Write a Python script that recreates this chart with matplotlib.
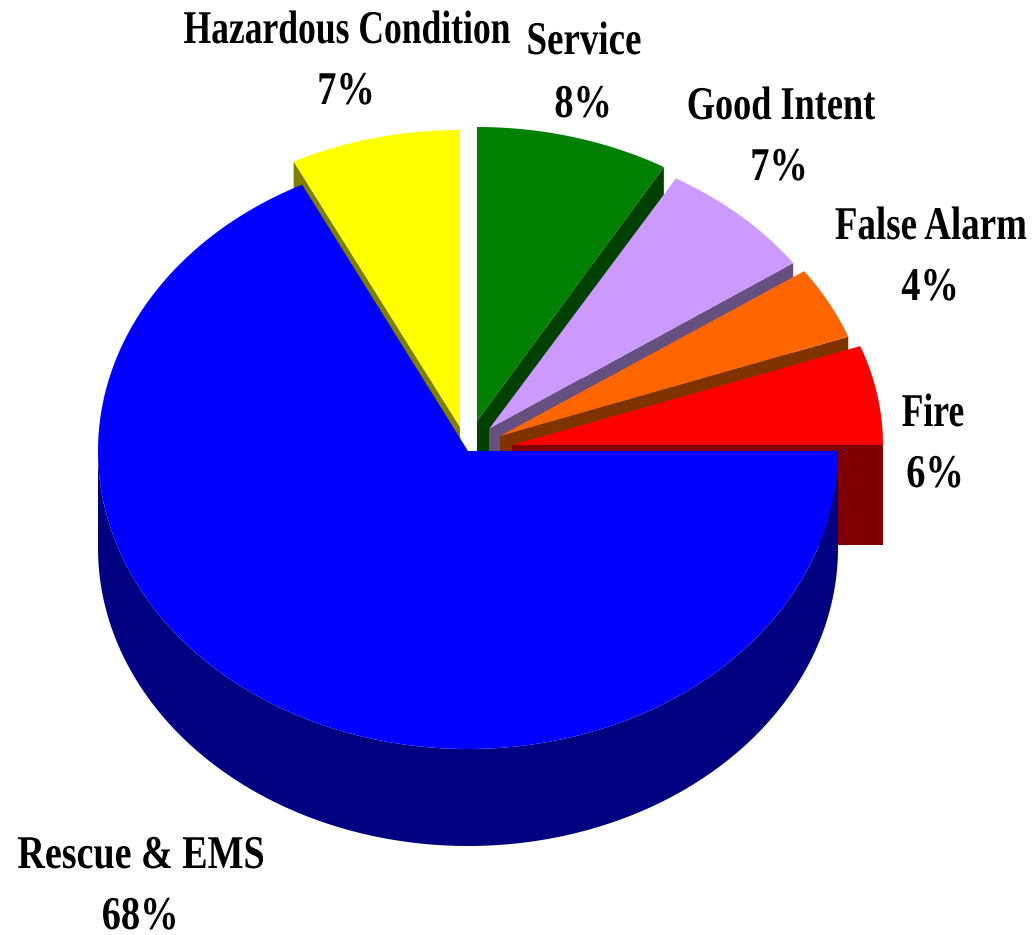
import numpy as np
import matplotlib
matplotlib.use('Agg')
import matplotlib.pyplot as plt
import matplotlib.patheffects as pe
from matplotlib.transforms import Affine2D

# Counter-clockwise from the right hand edge
names = ['Fire', 'False Alarm', 'Good Intent', 'Service', 'Hazardous Condition', 'Rescue & EMS']
shares = [5.6, 4.1, 6.9, 8.4, 7.4, 67.6]
pct_labels = ['6%', '4%', '7%', '8%', '7%', '68%']

top_colors = ['#FF0000', '#FF6600', '#CC99FF', '#008000', '#FFFF00', '#0000FF']
side_colors = ['#800000', '#803300', '#665080', '#004000', '#808000', '#000080']

# Where each slice sits on the page, in pixels
apex_x = [512, 500, 489, 477, 460, 468]
apex_y = [445, 436, 429, 421, 427, 451]
radius_x = [371, 371, 371, 371, 371, 370]
radius_y = [287, 288, 290, 294, 297, 298]
depth = 100
blue_depth = 97

# center x and baseline y for name, then for percent
name_x = [933, 931, 781, 584, 347, 141]
name_y = [426, 239, 119, 54, 43, 868]
pct_x = [935, 930, 779, 583, 346, 140]
pct_y = [487, 300, 180, 117, 104, 929]
# the reference spaces its labels a bit differently per line
name_wide = [1.0, 1.04, 1.02, 1.04, 1.0, 1.07]
pct_wide = 1.08

FONT_SIZE = 25.6
STRETCH = 1.32
W, H = 1036, 935


# The original text is squeezed sideways, so pull the glyphs up from the baseline.
class TallText(pe.AbstractPathEffect):
    def __init__(self, cx, base, wide):
        super().__init__()
        self.cx = cx
        self.base = base
        self.wide = wide

    def draw_path(self, renderer, gc, tpath, affine, rgbFace=None):
        stretch = (Affine2D().translate(-self.cx, -self.base)
                   .scale(self.wide, STRETCH).translate(self.cx, self.base))
        renderer.draw_path(gc, tpath, affine + stretch, rgbFace)


def arc(cx, cy, rx, ry, a1, a2):
    t = np.radians(np.linspace(a1, a2, 200))
    return cx + rx * np.cos(t), cy - ry * np.sin(t)


def draw_label(ax, text, x, y, wide):
    ax.text(x, y, text, ha='center', va='baseline', fontsize=FONT_SIZE, fontweight='bold',
            family='Liberation Serif', color='black', zorder=20,
            path_effects=[TallText(x, H - y, wide)])


fig = plt.figure(figsize=(W / 100, H / 100), dpi=100)
ax = fig.add_axes([0, 0, 1, 1])
ax.set_xlim(0, W)
ax.set_ylim(H, 0)
ax.axis('off')

edges = np.concatenate([[0], np.cumsum(shares)]) * 3.6

# back slices first, the big one goes on top of all of them
for order, i in enumerate([4, 3, 2, 1, 0, 5]):
    cx, cy, rx, ry = apex_x[i], apex_y[i], radius_x[i], radius_y[i]
    a1, a2 = edges[i], edges[i + 1]
    x, y = arc(cx, cy, rx, ry, a1, a2)

    if i == 5:
        # round wall along the front of the pie
        rim_x, rim_y = arc(cx, cy, rx, ry, 180, 360)
        ax.fill(np.concatenate([rim_x, rim_x[::-1]]),
                np.concatenate([rim_y, rim_y[::-1] + blue_depth]),
                color=side_colors[i], lw=0, zorder=order + 1)
    else:
        # flat cut face under the radial edge that looks at the viewer
        ex, ey = (x[-1], y[-1]) if i == 4 else (x[0], y[0])
        ax.fill([cx, ex, ex, cx], [cy, ey, ey + depth, cy + depth],
                color=side_colors[i], lw=0, zorder=order + 1)

    ax.fill(np.concatenate([[cx], x]), np.concatenate([[cy], y]),
            color=top_colors[i], lw=0, zorder=order + 1)

for i in range(len(names)):
    draw_label(ax, names[i], name_x[i], name_y[i], name_wide[i])
    draw_label(ax, pct_labels[i], pct_x[i], pct_y[i], pct_wide)

fig.savefig('out.png', dpi=100, facecolor='white')
